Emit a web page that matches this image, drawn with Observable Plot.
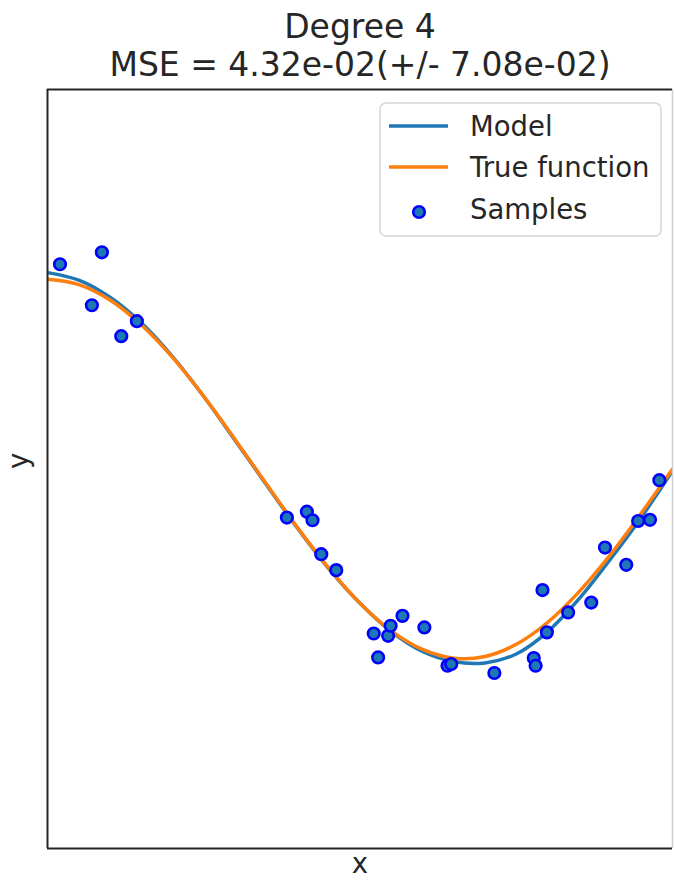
<!DOCTYPE html>
<html>
<head>
<meta charset="utf-8">
<script src="https://cdn.jsdelivr.net/npm/d3@7"></script>
<script src="https://cdn.jsdelivr.net/npm/@observablehq/plot@0.6"></script>
<style>
  html, body { margin: 0; padding: 0; background: #fff; }
  #chart { width: 674px; height: 882px; overflow: hidden; }
  svg { font-family: "DejaVu Sans", sans-serif; }
</style>
</head>
<body>
<div id="chart"></div>
<script>
// ---- Data ----
const titleLines = ["Degree 4", "MSE = 4.32e-02(+/- 7.08e-02)"];
const seriesNames = ["Model", "True function", "Samples"];

// Samples
const sampleX = [0.020, 0.071, 0.087, 0.118, 0.143, 0.383, 0.415, 0.424, 0.438, 0.462,
                 0.522, 0.529, 0.545, 0.549, 0.568, 0.603, 0.640, 0.646, 0.715, 0.778,
                 0.781, 0.792, 0.799, 0.833, 0.870, 0.892, 0.926, 0.945, 0.964, 0.979];
const sampleY = [1.079, 0.863, 1.142, 0.700, 0.779, -0.256, -0.225, -0.270, -0.449, -0.533,
                 -0.867, -0.993, -0.879, -0.826, -0.774, -0.835, -1.037, -1.028, -1.075, -0.996,
                 -1.037, -0.638, -0.861, -0.756, -0.704, -0.414, -0.505, -0.274, -0.268, -0.059];

// Curves, read at regular x positions
const curveX = [0, 0.05, 0.1, 0.15, 0.2, 0.25, 0.3, 0.35, 0.4, 0.45, 0.5,
                0.55, 0.6, 0.65, 0.7, 0.75, 0.8, 0.85, 0.9, 0.95, 1.0];
const trueY  = [1.0, 0.972, 0.891, 0.760, 0.588, 0.383, 0.156, -0.078, -0.309, -0.522, -0.707,
                -0.853, -0.951, -0.997, -0.988, -0.924, -0.809, -0.649, -0.454, -0.233, 0.0];
const modelY = [1.035, 0.995, 0.905, 0.770, 0.592, 0.382, 0.152, -0.082, -0.312, -0.525, -0.708,
                -0.857, -0.962, -1.015, -1.022, -0.975, -0.858, -0.686, -0.478, -0.255, -0.01];

const xDomain = [0, 1];
const yDomain = [-2, 2];

const samples = sampleX.map((x, i) => ({x, y: sampleY[i]}));
const trueData = curveX.map((x, i) => ({x, y: trueY[i]}));
const modelData = curveX.map((x, i) => ({x, y: modelY[i]}));

const C_MODEL = "#1f77b4", C_TRUE = "#ff7f0e", C_EDGE = "#0000ff";
const FONT = "DejaVu Sans, sans-serif";

const chart = Plot.plot({
  width: 674,
  height: 882,
  marginLeft: 47,
  marginRight: 2,
  marginTop: 89,
  marginBottom: 34,
  style: {fontFamily: FONT, background: "#fff", overflow: "visible"},
  x: {domain: xDomain, axis: null},
  y: {domain: yDomain, axis: null},
  marks: [
    Plot.line(modelData, {x: "x", y: "y", stroke: C_MODEL, strokeWidth: 3.5, curve: "catmull-rom", clip: true}),
    Plot.line(trueData, {x: "x", y: "y", stroke: C_TRUE, strokeWidth: 3.5, curve: "catmull-rom", clip: true}),
    Plot.dot(samples, {x: "x", y: "y", r: 5.8, fill: C_MODEL, stroke: C_EDGE, strokeWidth: 2.6}),
    Plot.ruleX([xDomain[1]], {stroke: "#d0d0d0", strokeWidth: 1.5}),
    Plot.ruleX([xDomain[0]], {stroke: "#262626", strokeWidth: 2}),
    Plot.ruleY(yDomain, {stroke: "#262626", strokeWidth: 2}),
    // titles
    Plot.text([titleLines[0]], {frameAnchor: "top", dy: -52, text: d => d, fontSize: 33, fill: "#262626", lineAnchor: "bottom"}),
    Plot.text([titleLines[1]], {frameAnchor: "top", dy: -14, text: d => d, fontSize: 33, fill: "#262626", lineAnchor: "bottom"}),
    // axis labels
    Plot.text(["x"], {frameAnchor: "bottom", dy: 24, text: d => d, fontSize: 27.5, fill: "#262626"}),
    Plot.text(["y"], {frameAnchor: "left", dx: -28, rotate: -90, text: d => d, fontSize: 27.5, fill: "#262626"})
  ]
});

document.getElementById("chart").appendChild(chart);

// ---- Legend ----
const svg = d3.select(chart);
const lg = svg.append("g").attr("font-family", FONT).attr("text-anchor", "start");
lg.append("rect")
  .attr("x", 380).attr("y", 103).attr("width", 281).attr("height", 133)
  .attr("rx", 6).attr("fill", "#fff").attr("fill-opacity", 0.85)
  .attr("stroke", "#d6d6d6").attr("stroke-width", 1.5);
const rows = [126, 167, 209];
lg.append("line").attr("x1", 389).attr("x2", 448).attr("y1", rows[0]).attr("y2", rows[0])
  .attr("stroke", C_MODEL).attr("stroke-width", 3.5);
lg.append("line").attr("x1", 389).attr("x2", 448).attr("y1", rows[1]).attr("y2", rows[1])
  .attr("stroke", C_TRUE).attr("stroke-width", 3.5);
lg.append("circle").attr("cx", 419).attr("cy", rows[2] + 3).attr("r", 5.8)
  .attr("fill", C_MODEL).attr("stroke", C_EDGE).attr("stroke-width", 2.6);
seriesNames.forEach((name, i) => {
  lg.append("text").attr("x", 470).attr("y", rows[i]).attr("dy", "0.35em")
    .attr("text-anchor", "start")
    .attr("font-size", 27.5).attr("fill", "#262626").text(name);
});
</script>
</body>
</html>
